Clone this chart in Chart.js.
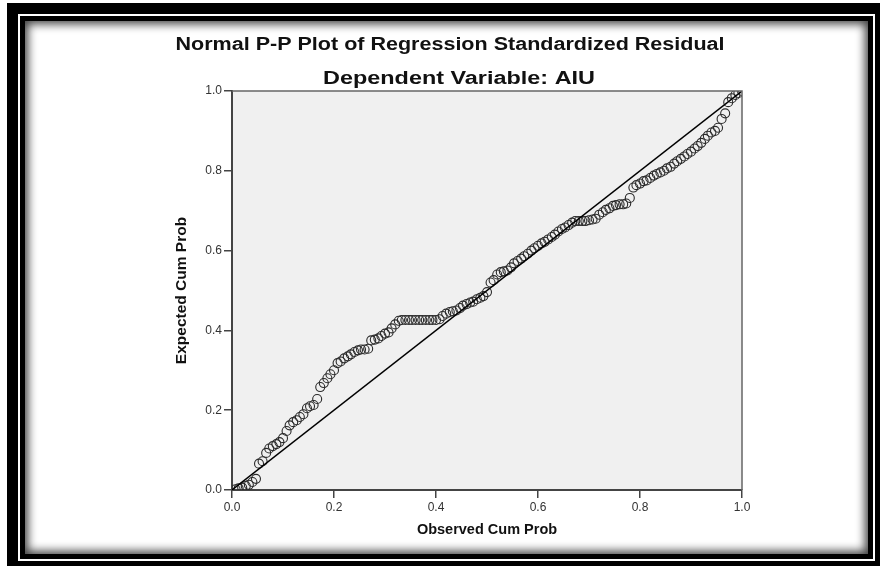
<!DOCTYPE html>
<html>
<head>
<meta charset="utf-8">
<script src="https://cdn.jsdelivr.net/npm/chart.js@4"></script>
<style>
  html, body { margin:0; padding:0; background:#fff; width:880px; height:566px; overflow:hidden; }
  .outer { position:absolute; left:7px; top:3px; width:879px; height:569px; box-sizing:border-box;
           border:11px solid #000; background:#fff; }
  .inner { position:absolute; left:2px; top:2px; right:2px; bottom:2px; box-sizing:border-box;
           border:5px solid #000; background:#fff; box-shadow: inset 0 0 10px 3px rgba(0,0,0,0.75); }
  #pp { position:absolute; left:0; top:0; }
</style>
</head>
<body>
<div class="outer"><div class="inner"></div></div>
<canvas id="pp" width="880" height="566"></canvas>
<script>
// Normal P-P plot — observed vs expected cumulative probability
const chartTitle = "Normal P-P Plot of Regression Standardized Residual";
const chartSubtitle = "Dependent Variable: AIU";
const xTitle = "Observed Cum Prob";
const yTitle = "Expected Cum Prob";
const tickValues = [0, 0.2, 0.4, 0.6, 0.8, 1.0];
const refLine = [0, 1];

const observedProb = [
  0.007,0.013,0.020,0.027,0.033,0.040,0.047,0.053,0.060,0.067,
  0.073,0.080,0.087,0.093,0.100,0.107,0.113,0.120,0.127,0.133,
  0.140,0.147,0.153,0.160,0.167,0.173,0.180,0.187,0.193,0.200,
  0.207,0.213,0.220,0.227,0.233,0.240,0.247,0.253,0.260,0.267,
  0.273,0.280,0.287,0.293,0.300,0.307,0.313,0.320,0.327,0.333,
  0.340,0.347,0.353,0.360,0.367,0.373,0.380,0.387,0.393,0.400,
  0.407,0.413,0.420,0.427,0.433,0.440,0.447,0.453,0.460,0.467,
  0.473,0.480,0.487,0.493,0.500,0.507,0.513,0.520,0.527,0.533,
  0.540,0.547,0.553,0.560,0.567,0.573,0.580,0.587,0.593,0.600,
  0.607,0.613,0.620,0.627,0.633,0.640,0.647,0.653,0.660,0.667,
  0.673,0.680,0.687,0.693,0.700,0.707,0.713,0.720,0.727,0.733,
  0.740,0.747,0.753,0.760,0.767,0.773,0.780,0.787,0.793,0.800,
  0.807,0.813,0.820,0.827,0.833,0.840,0.847,0.853,0.860,0.867,
  0.873,0.880,0.887,0.893,0.900,0.907,0.913,0.920,0.927,0.933,
  0.940,0.947,0.953,0.960,0.967,0.973,0.980,0.987,0.993,1.000
];
const expectedProb = [
  0.002,0.004,0.006,0.010,0.013,0.020,0.028,0.066,0.072,0.093,
  0.104,0.110,0.115,0.120,0.130,0.148,0.162,0.170,0.175,0.183,
  0.190,0.205,0.210,0.213,0.228,0.258,0.268,0.280,0.290,0.300,
  0.318,0.322,0.330,0.335,0.340,0.346,0.350,0.352,0.352,0.354,
  0.375,0.377,0.380,0.386,0.392,0.395,0.405,0.415,0.424,0.426,
  0.426,0.426,0.426,0.426,0.426,0.426,0.426,0.426,0.426,0.426,
  0.428,0.436,0.442,0.446,0.448,0.450,0.456,0.462,0.466,0.470,
  0.472,0.478,0.482,0.486,0.496,0.520,0.526,0.540,0.546,0.548,
  0.550,0.558,0.568,0.574,0.580,0.586,0.592,0.600,0.606,0.612,
  0.618,0.622,0.628,0.634,0.640,0.648,0.654,0.658,0.664,0.670,
  0.674,0.674,0.674,0.674,0.676,0.678,0.680,0.690,0.696,0.702,
  0.706,0.712,0.714,0.716,0.716,0.718,0.732,0.758,0.764,0.768,
  0.774,0.776,0.782,0.788,0.792,0.796,0.800,0.806,0.810,0.818,
  0.824,0.830,0.836,0.842,0.848,0.856,0.862,0.870,0.880,0.888,
  0.896,0.900,0.908,0.930,0.944,0.972,0.982,0.990,0.995,1.000
];

const points = observedProb.map((x, i) => ({ x, y: expectedProb[i] }));
const FONT = "'Liberation Sans', Arial, sans-serif";

// draws text centred at (cx, cy), stretched horizontally to span w pixels
function stretchText(ctx, text, cx, cy, w){
  const m = ctx.measureText(text).width;
  ctx.save();
  ctx.translate(cx, cy);
  ctx.scale(w / m, 1);
  ctx.fillText(text, 0, 0);
  ctx.restore();
}

// gray plot panel + top/right frame + titles
const ppDecor = {
  id: "ppDecor",
  beforeDraw(chart){
    const { ctx, chartArea: a } = chart;
    ctx.save();
    ctx.fillStyle = "#f0f0f0";
    ctx.fillRect(a.left, a.top, a.right - a.left, a.bottom - a.top);
    ctx.restore();
  },
  afterDraw(chart){
    const { ctx, chartArea: a } = chart;
    ctx.save();
    ctx.strokeStyle = "#666";
    ctx.lineWidth = 1.5;
    ctx.beginPath();
    ctx.moveTo(a.left, a.top); ctx.lineTo(a.right, a.top); ctx.lineTo(a.right, a.bottom);
    ctx.stroke();

    ctx.fillStyle = "#111";
    ctx.textAlign = "center";
    ctx.textBaseline = "middle";
    ctx.font = "bold 18px " + FONT;
    stretchText(ctx, chartTitle, 450, 45, 549);
    stretchText(ctx, chartSubtitle, 459, 79, 272);
    ctx.font = "bold 14.5px " + FONT;
    ctx.fillText(xTitle, (a.left + a.right) / 2, 530);
    ctx.font = "bold 15.5px " + FONT;
    ctx.translate(182, (a.top + a.bottom) / 2);
    ctx.rotate(-Math.PI / 2);
    ctx.fillText(yTitle, 0, 0);
    ctx.restore();
  }
};

function axis(fit){
  return {
    type: "linear", min: 0, max: 1,
    afterBuildTicks: s => { s.ticks = tickValues.map(v => ({ value: v })); },
    afterFit: fit,
    ticks: { callback: v => v.toFixed(1), color: "#333", padding: 2, font: { family: FONT, size: 12 } },
    grid: { drawOnChartArea: false, tickLength: 8, color: "#444", lineWidth: 1.5 },
    border: { color: "#444", width: 2 }
  };
}

new Chart(document.getElementById("pp"), {
  type: "scatter",
  data: {
    datasets: [
      {
        type: "line",
        data: refLine.map(v => ({ x: v, y: v })),
        borderColor: "#000", borderWidth: 1.4,
        pointRadius: 0, fill: false
      },
      {
        data: points,
        pointStyle: "circle", pointRadius: 4.5,
        borderColor: "#2a2a2a", borderWidth: 1.1,
        backgroundColor: "rgba(0,0,0,0)"
      }
    ]
  },
  options: {
    responsive: false, animation: false,
    layout: { padding: { left: 0, top: 91, right: 138, bottom: 0 } },
    plugins: { legend: { display: false }, tooltip: { enabled: false }, title: { display: false } },
    scales: {
      x: axis(s => { s.height = 76; }),
      y: axis(s => { s.width = 232; })
    }
  },
  plugins: [ppDecor]
});
</script>
</body>
</html>
